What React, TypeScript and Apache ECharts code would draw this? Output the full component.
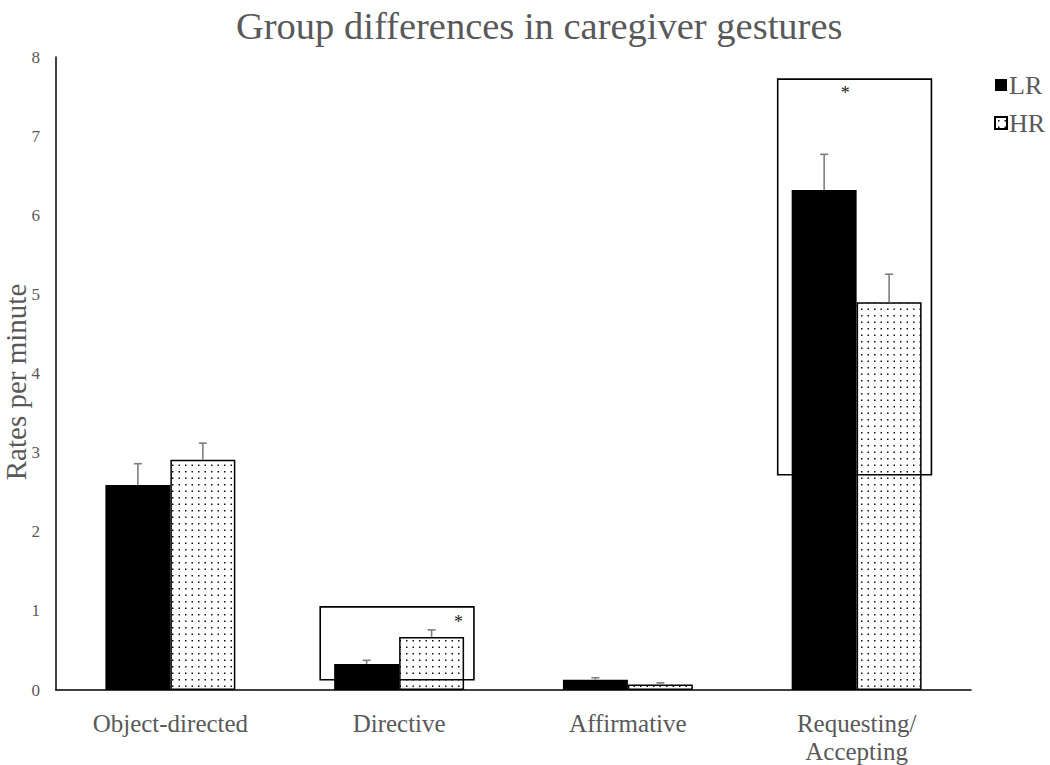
import React, { useEffect, useRef } from "react";
import * as echarts from "echarts";

const categories = ["Object-directed", "Directive", "Affirmative", "Requesting/\nAccepting"];
const seriesNames = ["LR", "HR"];
const lrValues = [2.59, 0.33, 0.13, 6.32];
const hrValues = [2.91, 0.67, 0.07, 4.9];
const lrErrors = [0.27, 0.045, 0.025, 0.45];
const hrErrors = [0.21, 0.09, 0.02, 0.355];
const yMin = 0;
const yMax = 8;
const yInterval = 1;
const yAxisTitle = "Rates per minute";
// significance boxes: category index, lower and upper value
const sigCategory = [1, 3];
const sigLow = [0.13, 2.72];
const sigHigh = [1.05, 7.72];
const sigStarValue = [0.86, 7.55];
const sigLabel = ["*", "*"];

const FONT = "'Liberation Serif', 'Times New Roman', serif";
const GRAY = "#595959";
const BAR_FRAC = 0.284;
const STAR_OFFSET = [0.26, -0.05];

function makePattern() {
  const c = document.createElement("canvas");
  c.width = 13;
  c.height = 13;
  const ctx = c.getContext("2d")!;
  ctx.fillStyle = "#ffffff";
  ctx.fillRect(0, 0, 13, 13);
  ctx.fillStyle = "#111111";
  ctx.fillRect(3, 3, 1.5, 1.5);
  ctx.fillRect(9.5, 3, 1.5, 1.5);
  ctx.fillRect(3, 9.5, 1.5, 1.5);
  ctx.fillRect(9.5, 9.5, 1.5, 1.5);
  return c;
}

export default function App() {
  const ref = useRef<HTMLDivElement>(null);
  useEffect(() => {
    if (!ref.current) return;
    const chart = echarts.init(ref.current, null, { renderer: "svg" });
    const pattern = makePattern();

    const errRender = (side: number) => (params: any, api: any) => {
      const band = api.size([1, 0])[0];
      const off = side * band * BAR_FRAC / 2;
      const base = api.coord([api.value(0), api.value(1)]);
      const top = api.coord([api.value(0), api.value(2)]);
      const x = base[0] + off;
      const st = { stroke: "#7f7f7f", lineWidth: 1.6 };
      return {
        type: "group",
        children: [
          { type: "line", shape: { x1: x, y1: base[1], x2: x, y2: top[1] }, style: st },
          { type: "line", shape: { x1: x - 4, y1: top[1], x2: x + 4, y2: top[1] }, style: st },
        ],
      };
    };

    const option: any = {
      animation: false,
      title: {
        text: "Group differences in caregiver gestures",
        left: 231,
        top: 1,
        textStyle: { fontFamily: FONT, fontSize: 38.5, fontWeight: "normal", color: GRAY },
      },
      graphic: [
        {
          type: "text",
          x: 16,
          y: 382,
          rotation: Math.PI / 2,
          style: {
            text: yAxisTitle,
            fontFamily: FONT,
            fontSize: 29,
            lineHeight: 29,
            fill: GRAY,
            align: "center",
            verticalAlign: "middle",
          },
        },
      ],
      legend: {
        data: seriesNames,
        orient: "vertical",
        left: 994,
        top: 72,
        padding: 0,
        itemWidth: 12,
        itemHeight: 12,
        itemGap: 12,
        icon: "rect",
        textStyle: { fontFamily: FONT, fontSize: 26, color: GRAY, padding: [0, 0, 0, -3] },
      },
      grid: { left: 56, right: 79, top: 57, bottom: 75, containLabel: false, outerBoundsMode: "none" },
      xAxis: {
        type: "category",
        data: categories,
        axisLine: { lineStyle: { color: "#000", width: 1.5 } },
        axisTick: { show: false },
        axisLabel: {
          fontFamily: FONT,
          fontSize: 25,
          color: GRAY,
          lineHeight: 28,
          margin: 19,
          interval: 0,
        },
      },
      yAxis: {
        type: "value",
        min: yMin,
        max: yMax,
        interval: yInterval,
        axisLine: { show: true, lineStyle: { color: "#000", width: 1.5 } },
        axisTick: { show: false },
        splitLine: { show: false },
        axisLabel: { fontFamily: FONT, fontSize: 17, color: GRAY, margin: 16 },
      },
      series: [
        {
          name: "LR",
          type: "bar",
          data: lrValues,
          barWidth: (BAR_FRAC * 100).toFixed(1) + "%",
          barGap: "0%",
          itemStyle: { color: "#000000" },
        },
        {
          name: "HR",
          type: "bar",
          data: hrValues,
          barWidth: (BAR_FRAC * 100).toFixed(1) + "%",
          barGap: "0%",
          itemStyle: {
            color: { image: pattern, repeat: "repeat" },
            borderColor: "#000000",
            borderWidth: 1.5,
          },
        },
        {
          type: "custom",
          name: "LR err",
          data: lrValues.map((v, i) => [i, v, v + lrErrors[i]]),
          renderItem: errRender(-1),
          z: 5,
          silent: true,
        },
        {
          type: "custom",
          name: "HR err",
          data: hrValues.map((v, i) => [i, v, v + hrErrors[i]]),
          renderItem: errRender(1),
          z: 5,
          silent: true,
        },
        {
          type: "custom",
          name: "sig",
          data: sigCategory.map((c, i) => [c, sigLow[i], sigHigh[i], sigStarValue[i]]),
          renderItem: (params: any, api: any) => {
            const band = api.size([1, 0])[0];
            const lo = api.coord([api.value(0), api.value(1)]);
            const hi = api.coord([api.value(0), api.value(2)]);
            const star = api.coord([api.value(0), api.value(3)]);
            const x1 = lo[0] - band * 0.345;
            const x2 = lo[0] + band * 0.327;
            const idx = params.dataIndex;
            return {
              type: "group",
              children: [
                {
                  type: "rect",
                  shape: { x: x1, y: hi[1], width: x2 - x1, height: lo[1] - hi[1] },
                  style: { fill: "none", stroke: "#000", lineWidth: 1.6 },
                },
                {
                  type: "text",
                  x: star[0] + band * STAR_OFFSET[idx],
                  y: star[1],
                  style: {
                    text: sigLabel[idx],
                    fontFamily: FONT,
                    fontSize: 18,
                    fill: "#222",
                    align: "center",
                    verticalAlign: "middle",
                  },
                },
              ],
            };
          },
          z: 6,
          silent: true,
        },
      ],
    };
    chart.setOption(option);
    return () => chart.dispose();
  }, []);
  return (
    <div
      ref={ref}
      style={{ position: "fixed", left: 0, top: 0, width: 1050, height: 765, background: "#fff" }}
    />
  );
}
